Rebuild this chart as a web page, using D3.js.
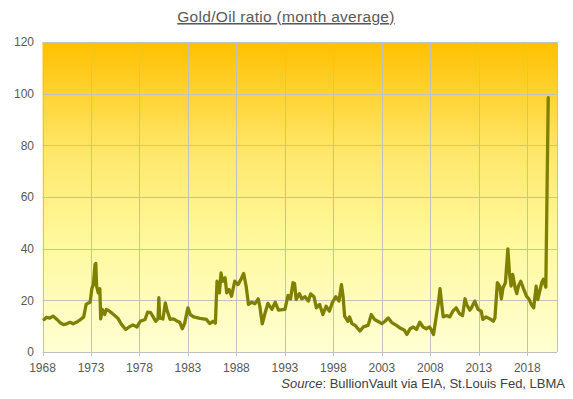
<!DOCTYPE html>
<html>
<head>
<meta charset="utf-8">
<script src="https://cdn.jsdelivr.net/npm/d3@7"></script>
<style>
  body { margin: 0; background: #fff; }
  text { font-family: "Liberation Sans", Arial, sans-serif; }
</style>
</head>
<body>
<script>
// month of each reading (YYYY-MM) and the gold/oil ratio at that month
const months = [
  "1968-03","1968-06","1968-10","1969-02","1969-07","1969-11","1970-03","1970-07","1970-11",
  "1971-03","1971-07","1971-11","1972-04","1972-07","1972-10","1972-12","1973-02","1973-04",
  "1973-06","1973-07","1973-08","1973-10","1973-12","1974-01","1974-03","1974-06","1974-08",
  "1974-12","1975-05","1975-10","1976-03","1976-08","1976-12","1977-05","1977-10","1978-02",
  "1978-08","1978-11","1979-03","1979-06","1979-09","1979-12","1980-01","1980-02","1980-06",
  "1980-09","1980-11","1981-03","1981-07","1981-12","1982-03","1982-06","1982-09","1983-01",
  "1983-04","1983-08","1984-04","1984-12","1985-04","1985-08","1985-11","1986-01","1986-04",
  "1986-06","1986-08","1986-11","1987-01","1987-04","1987-07","1987-11","1988-03","1988-07",
  "1988-10","1989-01","1989-04","1989-08","1989-12","1990-04","1990-06","1990-09","1990-12",
  "1991-04","1991-09","1992-01","1992-05","1993-01","1993-05","1993-08","1993-11","1994-01",
  "1994-03","1994-07","1994-10","1995-02","1995-06","1995-09","1996-01","1996-04","1996-08",
  "1996-12","1997-04","1997-08","1997-12","1998-04","1998-08","1998-11","1999-01","1999-03",
  "1999-07","1999-09","1999-12","2000-04","2000-10","2001-02","2001-08","2001-12","2002-04",
  "2002-08","2003-01","2003-05","2003-09","2004-01","2004-07","2004-11","2005-05","2005-08",
  "2005-12","2006-04","2006-08","2006-12","2007-04","2007-08","2007-12","2008-02","2008-05",
  "2008-09","2008-11","2009-01","2009-03","2009-05","2009-09","2010-01","2010-05","2010-09",
  "2011-01","2011-05","2011-08","2011-10","2012-02","2012-04","2012-08","2012-12","2013-04",
  "2013-06","2013-10","2014-03","2014-07","2014-09","2014-12","2015-03","2015-05","2015-07",
  "2015-10","2016-01","2016-03","2016-05","2016-07","2016-10","2016-12","2017-02","2017-05",
  "2017-08","2017-12","2018-03","2018-06","2018-09","2018-12","2019-02","2019-07","2019-09",
  "2019-12","2020-03"
];
const ratio = [
  12.6,13.4,13.1,13.9,12.6,11.3,10.6,10.9,11.5,
  10.9,11.5,12.3,13.6,18.4,19.0,19.3,24.5,26.1,
  33.9,34.3,25.5,22.9,24.5,12.8,16.5,14.5,16.5,
  15.8,14.5,13.2,10.6,8.7,9.7,10.5,9.7,11.9,
  12.6,15.4,15.2,13.6,11.9,12.8,21.0,13.2,12.8,
  19.0,16.2,12.6,12.8,11.9,11.5,9.0,11.2,17.1,
  14.5,13.6,13.0,12.6,11.0,11.9,11.2,27.4,22.9,
  30.6,27.4,28.7,22.9,24.2,21.6,27.4,26.1,28.3,
  30.4,25.5,18.4,19.3,18.7,20.6,17.7,10.9,14.5,
  18.8,16.5,19.3,16.2,16.5,21.9,20.5,26.8,26.5,
  20.3,22.6,20.6,21.4,19.7,22.5,21.4,17.1,18.4,
  14.5,17.7,15.8,19.3,21.4,19.7,26.1,21.6,13.9,
  11.9,13.6,11.0,10.3,8.1,9.7,10.3,14.5,12.6,
  11.9,11.0,11.9,13.2,11.5,10.3,9.4,8.4,6.8,
  9.0,9.7,8.7,11.5,9.7,9.0,9.7,8.7,6.8,
  15.2,19.0,24.5,19.0,13.6,14.1,13.6,15.8,17.1,
  14.9,14.1,20.6,18.4,16.2,17.1,19.7,16.5,15.8,
  12.6,13.6,12.8,11.9,13.2,26.8,25.5,20.6,24.8,
  26.8,39.9,30.6,25.5,30.0,24.8,22.6,25.5,27.4,
  24.8,21.6,20.6,18.4,17.1,25.5,20.3,26.9,28.2,
  25.1,98.5
];
const yTicks = [0, 20, 40, 60, 80, 100, 120];
const xTickYears = [1968, 1973, 1978, 1983, 1988, 1993, 1998, 2003, 2008, 2013, 2018];

const width = 573, height = 399;
const margin = { top: 42, right: 16, bottom: 47, left: 42.5 };

const svg = d3.select("body").append("svg")
  .attr("width", width)
  .attr("height", height);

const parse = d3.timeParse("%Y-%m");
const data = months.map((m, i) => ({ date: parse(m), value: ratio[i] }));

const x = d3.scaleTime()
  .domain([new Date(1968, 0, 1), new Date(2021, 0, 25)])
  .range([margin.left, width - margin.right]);
const y = d3.scaleLinear()
  .domain([0, 120])
  .range([height - margin.bottom, margin.top]);

// plot background gradient
const grad = svg.append("defs").append("linearGradient")
  .attr("id", "bg").attr("x1", 0).attr("y1", 0).attr("x2", 0).attr("y2", 1);
grad.append("stop").attr("offset", "0%").attr("stop-color", "#FFC000");
grad.append("stop").attr("offset", "35%").attr("stop-color", "#FFE76A");
grad.append("stop").attr("offset", "62%").attr("stop-color", "#FFF899");
grad.append("stop").attr("offset", "100%").attr("stop-color", "#FFFFD4");

svg.append("rect")
  .attr("x", x.range()[0]).attr("y", y(120))
  .attr("width", x.range()[1] - x.range()[0])
  .attr("height", y(0) - y(120))
  .attr("fill", "url(#bg)");

// grid
const grid = svg.append("g").attr("stroke", "#C0C0C0").attr("stroke-width", 1);
grid.selectAll(".hy").data(yTicks).enter().append("line")
  .attr("x1", x.range()[0]).attr("x2", x.range()[1])
  .attr("y1", d => Math.round(y(d)) + 0.5).attr("y2", d => Math.round(y(d)) + 0.5);
grid.selectAll(".vx").data(xTickYears).enter().append("line")
  .attr("x1", d => Math.round(x(new Date(d, 0, 1))) + 0.5)
  .attr("x2", d => Math.round(x(new Date(d, 0, 1))) + 0.5)
  .attr("y1", y(120)).attr("y2", y(0) + 4);
grid.append("line")
  .attr("x1", Math.round(x.range()[1]) + 0.5).attr("x2", Math.round(x.range()[1]) + 0.5)
  .attr("y1", y(120)).attr("y2", y(0));

// y labels
svg.append("g").selectAll("text").data(yTicks).enter().append("text")
  .attr("x", 34).attr("y", d => y(d)).attr("dy", "0.35em")
  .attr("text-anchor", "end")
  .attr("font-size", 12).attr("fill", "#595959")
  .text(d => d);

// x labels
svg.append("g").selectAll("text").data(xTickYears).enter().append("text")
  .attr("x", d => x(new Date(d, 0, 1))).attr("y", y(0) + 20)
  .attr("text-anchor", "middle")
  .attr("font-size", 12).attr("fill", "#595959")
  .text(d => d);

// the ratio line
const line = d3.line()
  .x(d => x(d.date))
  .y(d => y(d.value));

svg.append("path")
  .datum(data)
  .attr("d", line)
  .attr("fill", "none")
  .attr("stroke", "#808000")
  .attr("stroke-width", 3.3)
  .attr("stroke-linejoin", "round")
  .attr("stroke-linecap", "round");

// title
svg.append("text")
  .attr("x", 286).attr("y", 22)
  .attr("text-anchor", "middle")
  .attr("font-size", 15.5).attr("fill", "#595959")
  .attr("letter-spacing", 0.3)
  .attr("text-decoration", "underline")
  .text("Gold/Oil ratio (month average)");

// source note
const src = svg.append("text")
  .attr("x", 565).attr("y", 388)
  .attr("text-anchor", "end")
  .attr("font-size", 13).attr("fill", "#404040");
src.append("tspan").attr("font-style", "italic").text("Source");
src.append("tspan").text(": BullionVault via EIA, St.Louis Fed, LBMA");
</script>
</body>
</html>
